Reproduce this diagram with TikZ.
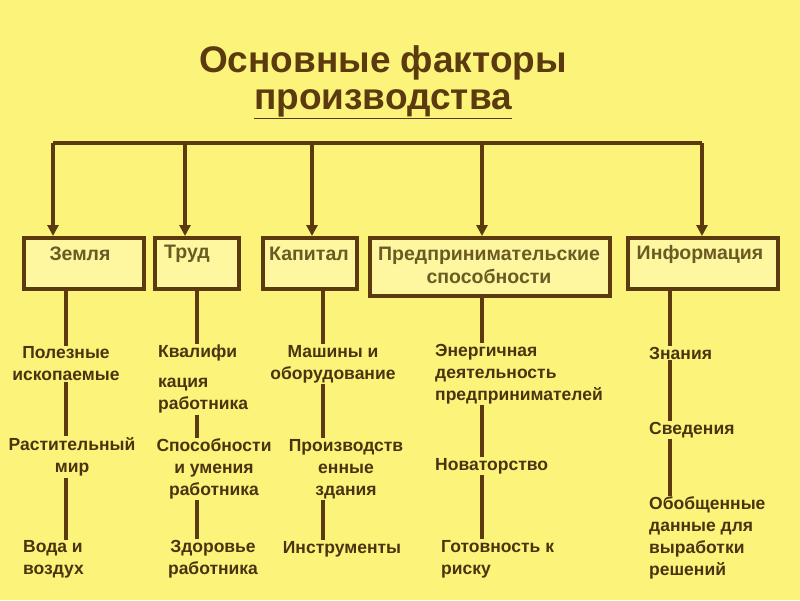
\documentclass[tikz,border=0pt]{standalone}
\usepackage{fontspec}
\setmainfont{Liberation Sans}
\usetikzlibrary{arrows.meta}
\definecolor{bg}{HTML}{FCF37A}
\definecolor{boxf}{HTML}{FFF6A0}
\definecolor{brn}{HTML}{5A3A0E}
\definecolor{boxt}{HTML}{6B5A24}
\definecolor{itt}{HTML}{4A3410}
\begin{document}
\begin{tikzpicture}[x=1pt,y=-1pt,
  fbox/.style={draw=brn,line width=3.5pt,fill=boxf,anchor=north west,inner sep=0pt},
  btxt/.style={text=boxt,font=\bfseries\fontsize{19.5}{23}\selectfont,align=center},
  item/.style={text=itt,font=\bfseries\fontsize{17.5}{22}\selectfont,inner sep=1pt},
  ln/.style={draw=brn,line width=3.5pt},
  ar/.style={ln,-{Triangle[length=11pt,width=11pt]}}]
\fill[bg] (0,0) rectangle (800,600);
\useasboundingbox (0,0) rectangle (800,600);
\node[text=brn,font=\bfseries\fontsize{37}{44}\selectfont] (t1) at (383,63) {Основные факторы};
\node[text=brn,font=\bfseries\fontsize{37}{44}\selectfont] (t2) at (383,104) {\underline{производства}};
% boxes
\node[fbox,minimum width=120pt,minimum height=51pt] (b1) at (22,236) {};
\node[btxt] at (80,254) {Земля};
\node[fbox,minimum width=84pt,minimum height=51pt] (b2) at (153,236) {};
\node[btxt] at (187,254) {Труд};
\node[fbox,minimum width=94pt,minimum height=51pt] (b3) at (261,236) {};
\node[btxt] at (309,254) {Капитал};
\node[fbox,minimum width=240pt,minimum height=58pt] (b4) at (368,236) {};
\node[btxt,align=center] at (489,265) {Предпринимательские\\способности};
\node[fbox,minimum width=150pt,minimum height=51pt] (b5) at (626,236) {};
\node[btxt] at (700,254) {Информация};
% top connectors
\coordinate (L) at (53,143); \coordinate (R) at (702,143);
\draw[ln] (L) -- (R);
\draw[ar] (L) -- (53,236);
\foreach \x in {185,312,482} \draw[ar] (\x,143) -- (\x,236);
\draw[ar] (R) -- (702,236);
% column 1
\node[item,align=center] (a1) at (66,364) {Полезные\\ископаемые};
\node[item,align=center] (a2) at (72,457) {Растительный\\мир};
\node[item,align=left,anchor=west] (a3) at (22,559) {Вода и\\воздух};
\draw[ln] (66,287) -- ({66,0}|-a1.north);
\draw[ln] ({66,0}|-a1.south) -- ({66,0}|-a2.north);
\draw[ln] ({66,0}|-a2.south) -- (66,540);
% column 2
\node[item,anchor=west] (c1) at (157,353) {Квалифи};
\node[item,align=left,anchor=west] (c2) at (157,396) {кация\\работника};
\node[item,align=center] (c3) at (214,469) {Способности\\и умения\\работника};
\node[item,align=center] (c4) at (213,559) {Здоровье\\работника};
\draw[ln] (197,287) -- ({197,0}|-c1.north);
\draw[ln] ({197,0}|-c2.south) -- ({197,0}|-c3.north);
\draw[ln] ({197,0}|-c3.south) -- ({197,0}|-c4.north);
% column 3
\node[item,align=center] (d1) at (333,364) {Машины и\\оборудование};
\node[item,align=center] (d2) at (346,469) {Производств\\енные\\здания};
\node[item] (d3) at (342,549) {Инструменты};
\draw[ln] (323,287) -- ({323,0}|-d1.north);
\draw[ln] ({323,0}|-d1.south) -- ({323,0}|-d2.north);
\draw[ln] ({323,0}|-d2.south) -- ({323,0}|-d3.north);
% column 4
\node[item,align=left,anchor=west] (e1) at (434,374) {Энергичная\\деятельность\\предпринимателей};
\node[item,anchor=west] (e2) at (434,466) {Новаторство};
\node[item,align=left,anchor=west] (e3) at (440,559) {Готовность к\\риску};
\draw[ln] (482,294) -- ({482,0}|-e1.north);
\draw[ln] ({482,0}|-e1.south) -- ({482,0}|-e2.north);
\draw[ln] ({482,0}|-e2.south) -- ({482,0}|-e3.north);
% column 5
\node[item,anchor=west] (f1) at (648,353) {Знания};
\node[item,anchor=west] (f2) at (648,430) {Сведения};
\node[item,align=left,anchor=west] (f3) at (648,538) {Обобщенные\\данные для\\выработки\\решений};
\draw[ln] (670,287) -- ({670,0}|-f1.north);
\draw[ln] ({670,0}|-f1.south) -- ({670,0}|-f2.north);
\draw[ln] ({670,0}|-f2.south) -- ({670,0}|-f3.north);
\end{tikzpicture}
\end{document}
